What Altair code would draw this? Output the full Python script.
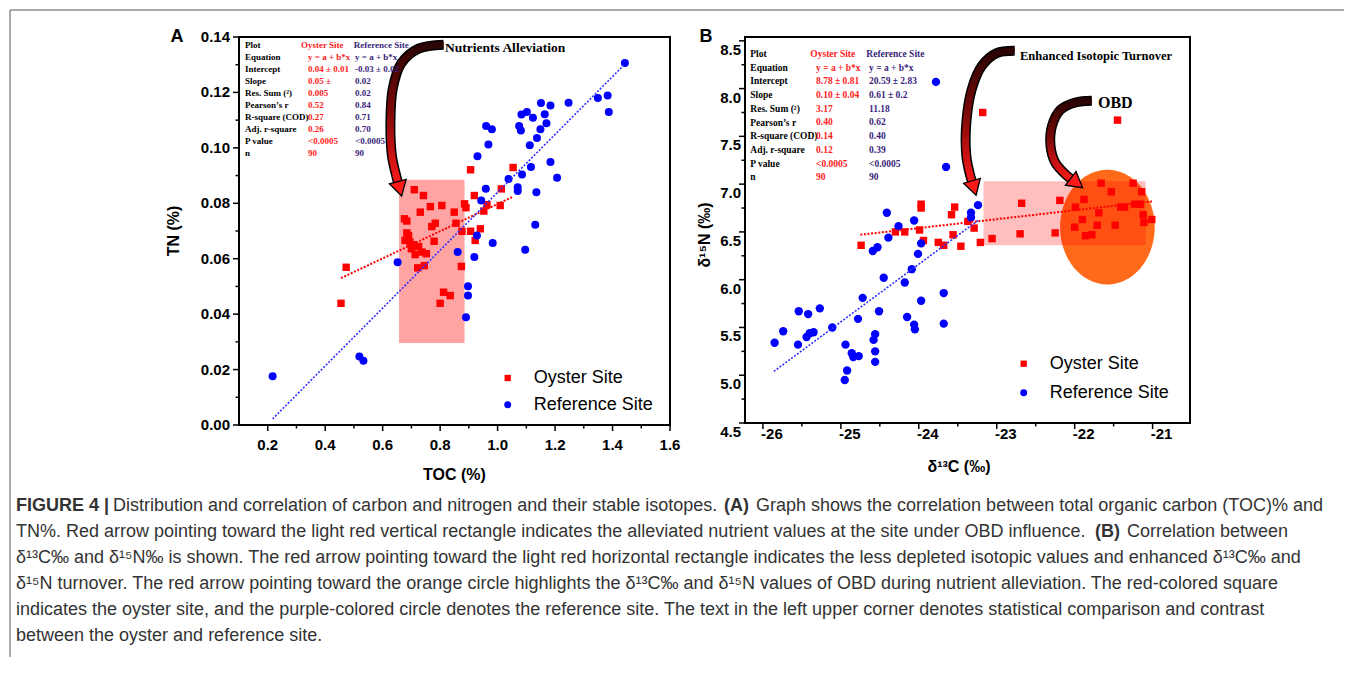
import altair as alt
import numpy as np
import pandas as pd

RED = "#ff0000"
BLUE = "#0000ff"
TRED = "#ff1a1a"
PURPLE = "#3a1f7a"
SANS = "Liberation Sans"
SERIF = "Liberation Serif"

# ------------------------------------------------------------------ Panel A data
a_oyster_toc = [0.455, 0.473, 0.710, 0.742, 0.676, 0.684, 0.684, 0.690, 0.678, 0.695,
                0.707, 0.700, 0.713, 0.725, 0.737, 0.752, 0.722, 0.745, 0.731, 0.766,
                0.771, 0.783, 0.779, 0.806, 0.849, 0.855, 0.876, 0.874, 0.800, 0.812,
                0.835, 0.885, 0.890, 0.906, 0.919, 0.906, 0.922, 0.940, 0.952, 0.963,
                1.009, 1.013, 1.054]
a_oyster_tn = [0.0439, 0.0569, 0.0849, 0.0828, 0.0744, 0.0736, 0.0693, 0.0684, 0.0666, 0.0660,
               0.0650, 0.0636, 0.0615, 0.0644, 0.0624, 0.0618, 0.0567, 0.0575, 0.0768, 0.0788,
               0.0716, 0.0728, 0.0663, 0.0792, 0.0768, 0.0728, 0.0699, 0.0572, 0.0439, 0.0479,
               0.0467, 0.0798, 0.0784, 0.0921, 0.0828, 0.0699, 0.0666, 0.0708, 0.0772, 0.0795,
               0.0792, 0.0852, 0.0929]
a_ref_toc = [0.217, 0.519, 0.533, 0.652, 0.861, 0.890, 0.897, 0.897, 0.919, 0.928,
             0.930, 0.943, 0.959, 0.960, 0.968, 0.980, 0.983, 1.038, 1.070, 1.070,
             1.085, 1.075, 1.081, 1.083, 1.102, 1.096, 1.112, 1.116, 1.123, 1.131,
             1.135, 1.137, 1.149, 1.151, 1.164, 1.170, 1.184, 1.184, 1.207, 1.247,
             1.349, 1.383, 1.387, 1.443]
a_ref_tn = [0.0176, 0.0247, 0.0232, 0.0587, 0.0624, 0.0389, 0.0501, 0.0467, 0.0606, 0.0684,
            0.0970, 0.0810, 0.0852, 0.1079, 0.1012, 0.1067, 0.0657, 0.0888, 0.0858, 0.0844,
            0.0904, 0.1079, 0.1063, 0.1120, 0.1129, 0.0632, 0.1009, 0.0931, 0.1109, 0.0723,
            0.0840, 0.1036, 0.1067, 0.1162, 0.1121, 0.1089, 0.1153, 0.0949, 0.0892, 0.1163,
            0.1180, 0.1189, 0.1129, 0.1306]
a_fit_oyster_toc = [0.455, 1.05]
a_fit_oyster_tn = [0.053, 0.0822]
a_fit_ref_toc = [0.217, 1.439]
a_fit_ref_tn = [0.0022, 0.1298]
a_box_toc = [0.657, 0.885]
a_box_tn = [0.0296, 0.0885]

a_x_ticks = [0.2, 0.4, 0.6, 0.8, 1.0, 1.2, 1.4, 1.6]
a_x_labels = ["0.2", "0.4", "0.6", "0.8", "1.0", "1.2", "1.4", "1.6"]
a_x_minor = [0.3, 0.5, 0.7, 0.9, 1.1, 1.3, 1.5]
a_y_ticks = [0.00, 0.02, 0.04, 0.06, 0.08, 0.10, 0.12, 0.14]
a_y_labels = ["0.00", "0.02", "0.04", "0.06", "0.08", "0.10", "0.12", "0.14"]
a_y_minor = [0.01, 0.03, 0.05, 0.07, 0.09, 0.11, 0.13]

# ------------------------------------------------------------------ Panel B data
b_oyster_c = [-24.74, -24.30, -24.18, -23.97, -23.97, -23.99, -23.94, -23.75, -23.68, -23.58,
              -23.54, -23.56, -23.46, -23.37, -23.29, -23.21, -23.18, -23.06, -22.68, -22.70,
              -22.25, -22.19, -22.00, -21.99, -21.90, -21.88, -21.86, -21.78, -21.71, -21.69,
              -21.66, -21.53, -21.48, -21.45, -21.41, -21.36, -21.25, -21.23, -21.16, -21.14,
              -21.12, -21.11, -21.01]
b_oyster_n = [6.36, 6.50, 6.50, 6.79, 6.75, 6.52, 6.41, 6.39, 6.36, 6.68,
              6.76, 6.47, 6.35, 6.61, 6.54, 6.39, 7.75, 6.43, 6.80, 6.48,
              6.49, 6.83, 6.55, 6.76, 6.63, 6.84, 6.46, 6.47, 6.57, 6.70,
              7.01, 6.92, 6.57, 7.67, 6.76, 6.76, 7.01, 6.79, 6.79, 6.92,
              6.68, 6.60, 6.63]
b_ref_c = [-25.85, -25.74, -25.55, -25.54, -25.44, -25.42, -25.40, -25.35, -25.27, -25.11,
           -24.94, -24.92, -24.95, -24.86, -24.84, -24.77, -24.78, -24.72, -24.58, -24.56,
           -24.56, -24.56, -24.51, -24.59, -24.53, -24.45, -24.41, -24.39, -24.26, -24.18,
           -24.15, -24.09, -24.06, -24.05, -24.06, -24.01, -23.97, -23.97, -23.78, -23.68,
           -23.68, -23.65, -23.33, -23.33, -23.24]
b_ref_n = [5.34, 5.46, 5.32, 5.67, 5.40, 5.64, 5.44, 5.45, 5.70, 5.50,
           5.32, 5.05, 4.95, 5.23, 5.19, 5.20, 5.59, 5.81, 5.37, 5.43,
           5.25, 5.14, 5.67, 6.30, 6.34, 6.02, 6.70, 6.44, 6.56, 5.97,
           5.61, 6.11, 5.53, 5.48, 6.62, 6.27, 6.38, 5.78, 8.07, 5.86,
           5.54, 7.18, 6.70, 6.65, 6.78]
b_fit_oyster_c = [-24.75, -21.0]
b_fit_oyster_n = [6.47, 6.82]
b_fit_ref_c = [-25.86, -23.24]
b_fit_ref_n = [5.04, 6.62]
b_box_c = [-23.17, -21.09]
b_box_n = [6.36, 7.03]
b_obd_center = [-21.58, 6.55]
b_obd_radius = [0.607, 0.60]

b_x_ticks = [-26, -25, -24, -23, -22, -21]
b_x_labels = ["-26", "-25", "-24", "-23", "-22", "-21"]
b_x_minor = [-25.5, -24.5, -23.5, -22.5, -21.5]
b_y_ticks = [4.5, 5.0, 5.5, 6.0, 6.5, 7.0, 7.5, 8.0, 8.5]
b_y_labels = ["4.5", "5.0", "5.5", "6.0", "6.5", "7.0", "7.5", "8.0", "8.5"]
b_y_minor = [4.75, 5.25, 5.75, 6.25, 6.75, 7.25, 7.75, 8.25]

# ------------------------------------------------------------------ statistics tables
stat_labels = ["Plot", "Equation", "Intercept", "Slope", "Res. Sum (²)", "Pearson’s r",
               "R-square (COD)", "Adj. r-square", "P value", "n"]
a_stats_oyster = ["y = a + b*x", "0.04 ± 0.01", "0.05 ±", "0.005", "0.52", "0.27", "0.26", "<0.0005", "90"]
a_stats_ref = ["y = a + b*x", "-0.03 ± 0.02", "0.02", "0.02", "0.84", "0.71", "0.70", "<0.0005", "90"]
b_stats_oyster = ["y = a + b*x", "8.78 ± 0.81", "0.10 ± 0.04", "3.17", "0.40", "0.14", "0.12", "<0.0005", "90"]
b_stats_ref = ["y = a + b*x", "20.59 ± 2.83", "0.61  ±  0.2", "11.18", "0.62", "0.40", "0.39", "<0.0005", "90"]

caption_lines = [
    "TN%. Red arrow pointing toward the light red vertical rectangle indicates the alleviated nutrient values at the site under OBD influence.",
    "δ¹³C‰ and δ¹⁵N‰ is shown. The red arrow pointing toward the light red horizontal rectangle indicates the less depleted isotopic values and enhanced δ¹³C‰ and",
    "δ¹⁵N turnover. The red arrow pointing toward the orange circle highlights the δ¹³C‰ and δ¹⁵N values of OBD during nutrient alleviation. The red-colored square",
    "indicates the oyster site, and the purple-colored circle denotes the reference site. The text in the left upper corner denotes statistical comparison and contrast",
    "between the oyster and reference site.",
]

# ------------------------------------------------------------------ annotation geometry (data coords)
a_arrow_x = [0.812, 0.725, 0.664, 0.635, 0.627, 0.632, 0.647, 0.657]
a_arrow_y = [0.1372, 0.1358, 0.1304, 0.1213, 0.1093, 0.0973, 0.0900, 0.0861]
a_head = (0.657, 0.0861, 165)
b1_arrow_x = [-22.77, -23.00, -23.19, -23.32, -23.39, -23.39, -23.34, -23.30]
b1_arrow_y = [8.395, 8.371, 8.239, 7.995, 7.646, 7.298, 7.089, 6.984]
b1_head = (-23.30, 6.984, 164)
b2_arrow_x = [-21.78, -21.99, -22.18, -22.29, -22.31, -22.25, -22.10, -22.00]
b2_arrow_y = [7.873, 7.855, 7.779, 7.611, 7.402, 7.228, 7.089, 7.028]
b2_head = (-22.00, 7.028, 128)

one = pd.DataFrame({"k": [0]})

ARROW_GRAD = alt.Gradient(
    gradient="linear",
    stops=[alt.GradientStop(color="#2a0404", offset=0),
           alt.GradientStop(color="#7a0808", offset=0.45),
           alt.GradientStop(color="#ff1a1a", offset=1)],
    x1=0, x2=0, y1=0, y2=1)


def X(field, xs):
    return alt.X(field, scale=xs, axis=None)


def Y(field, ys):
    return alt.Y(field, scale=ys, axis=None)


def points(xv, yv, xs, ys, shape, size, color):
    df = pd.DataFrame({"x": xv, "y": yv})
    return alt.Chart(df).mark_point(shape=shape, size=size, filled=True, color=color,
                                    opacity=1, strokeWidth=0).encode(x=X("x:Q", xs), y=Y("y:Q", ys))


def fit_line(xv, yv, xs, ys, color, width):
    df = pd.DataFrame({"x": xv, "y": yv})
    return alt.Chart(df).mark_line(color=color, strokeWidth=width, strokeDash=[2, 1.6]).encode(
        x=X("x:Q", xs), y=Y("y:Q", ys))


def box(xv, yv, xs, ys, opacity):
    df = pd.DataFrame({"x": [xv[0]], "x2": [xv[1]], "y": [yv[0]], "y2": [yv[1]]})
    return alt.Chart(df).mark_rect(color=RED, opacity=opacity).encode(
        x=X("x:Q", xs), x2="x2:Q", y=Y("y:Q", ys), y2="y2:Q")


def arrow(xv, yv, head, xs, ys):
    df = pd.DataFrame({"x": xv, "y": yv, "i": list(range(len(xv)))})
    base = alt.Chart(df).encode(x=X("x:Q", xs), y=Y("y:Q", ys), order=alt.Order("i:Q"))
    outline = base.mark_line(color="black", strokeWidth=10, interpolate="catmull-rom", strokeCap="butt")
    body = base.mark_line(color=ARROW_GRAD, strokeWidth=7, interpolate="catmull-rom", strokeCap="butt")
    hd = alt.Chart(pd.DataFrame({"x": [head[0]], "y": [head[1]]})).mark_point(
        shape="triangle", size=300, filled=True, fill="#ff1a1a", stroke="black", strokeWidth=1.3,
        angle=head[2], opacity=1).encode(x=X("x:Q", xs), y=Y("y:Q", ys))
    return [outline, body, hd]


def axes(xt, xl, xm, yt, yl, ym, xs, ys, h, xlab_y, xlab_dx, ylab_x, ylab_dy, size):
    """Frame ticks and tick labels drawn through the panel's own scales."""
    out = []
    out.append(alt.Chart(pd.DataFrame({"v": xt})).mark_rule(color="black", strokeWidth=1.5).encode(
        x=X("v:Q", xs), y=alt.value(h), y2=alt.value(h + 6)))
    out.append(alt.Chart(pd.DataFrame({"v": xm})).mark_rule(color="black", strokeWidth=1.5).encode(
        x=X("v:Q", xs), y=alt.value(h), y2=alt.value(h + 3.5)))
    out.append(alt.Chart(pd.DataFrame({"v": yt})).mark_rule(color="black", strokeWidth=1.5).encode(
        y=Y("v:Q", ys), x=alt.value(0), x2=alt.value(-6)))
    out.append(alt.Chart(pd.DataFrame({"v": ym})).mark_rule(color="black", strokeWidth=1.5).encode(
        y=Y("v:Q", ys), x=alt.value(0), x2=alt.value(-3.5)))
    out.append(alt.Chart(pd.DataFrame({"v": xt, "t": xl})).mark_text(
        font=SANS, fontSize=size, fontWeight="bold", color="black", align="center",
        baseline="middle", dx=xlab_dx).encode(x=X("v:Q", xs), y=alt.value(xlab_y), text="t:N"))
    out.append(alt.Chart(pd.DataFrame({"v": yt, "t": yl})).mark_text(
        font=SANS, fontSize=size, fontWeight="bold", color="black", align="right",
        baseline="middle", dy=ylab_dy).encode(y=Y("v:Q", ys), x=alt.value(ylab_x), text="t:N"))
    return out


def text(t, x, y, size, color="black", font=SANS, weight="normal", align="left",
         baseline="middle", line_height=None, angle=None):
    kw = dict(text=t, align=align, baseline=baseline, font=font, fontSize=size,
              fontWeight=weight, color=color)
    if line_height is not None:
        kw["lineHeight"] = line_height
    if angle is not None:
        kw["angle"] = angle
    return alt.Chart(one).mark_text(**kw).encode(x=alt.value(x), y=alt.value(y))


def legend(x, y0, dy, tx):
    return [
        alt.Chart(one).mark_point(shape="square", size=40, filled=True, color=RED, opacity=1,
                                  strokeWidth=0).encode(x=alt.value(x), y=alt.value(y0)),
        alt.Chart(one).mark_point(shape="circle", size=48, filled=True, color=BLUE, opacity=1,
                                  strokeWidth=0).encode(x=alt.value(x), y=alt.value(y0 + dy)),
        text("Oyster Site", tx, y0, 18),
        text("Reference Site", tx, y0 + dy, 18),
    ]


# ------------------------------------------------------------------ Panel A
WA, HA = 431, 388
xA = alt.Scale(domain=[0.1, 1.6], nice=False, zero=False)
yA = alt.Scale(domain=[0.0, 0.14], nice=False, zero=False)

TA = 9  # table font size, panel A
layersA = [
    box(a_box_toc, a_box_tn, xA, yA, 0.36),
    points(a_oyster_toc, a_oyster_tn, xA, yA, "square", 55, RED),
    points(a_ref_toc, a_ref_tn, xA, yA, "circle", 64, BLUE),
    fit_line(a_fit_oyster_toc, a_fit_oyster_tn, xA, yA, RED, 2),
    fit_line(a_fit_ref_toc, a_fit_ref_tn, xA, yA, "#3030ff", 1.6),
]
layersA += axes(a_x_ticks, a_x_labels, a_x_minor, a_y_ticks, a_y_labels, a_y_minor,
                xA, yA, HA, HA + 20, 0, -9, 0, 15)
layersA += arrow(a_arrow_x, a_arrow_y, a_head, xA, yA)
layersA += [
    text("TOC (%)", WA / 2, 438, 16, weight="bold", align="center"),
    text("TN (%)", -65, HA / 2, 16, weight="bold", align="center", angle=270),
    text("Nutrients Alleviation", 206, 11, 13.5, font=SERIF, weight="bold"),
    text("A", -62, 0, 18, weight="bold", align="center"),
    text(stat_labels, 6, 4, TA, font=SERIF, weight="bold", baseline="top", line_height=12),
    text("Oyster Site", 62, 4, TA, color=TRED, font=SERIF, weight="bold", baseline="top"),
    text("Reference Site", 114.7, 4, TA, color=PURPLE, font=SERIF, weight="bold", baseline="top"),
    text(a_stats_oyster, 69, 16, TA, color=TRED, font=SERIF, weight="bold", baseline="top", line_height=12),
    text(a_stats_ref, 116, 16, TA, color=PURPLE, font=SERIF, weight="bold", baseline="top", line_height=12),
]
layersA += legend(268.7, 341, 26.7, 294.7)

# page frame + caption (positioned relative to panel A)
layersA += [
    alt.Chart(one).mark_rule(color="#8c8c8c", strokeWidth=1.5).encode(
        x=alt.value(-229), y=alt.value(-27), y2=alt.value(620)),
    alt.Chart(one).mark_rule(color="#8c8c8c", strokeWidth=1.5).encode(
        x=alt.value(-229), x2=alt.value(1105), y=alt.value(-27)),
]
CAP = 18
CAPC = "#333333"
CX = -223
cap_y = [469, 495, 521, 547, 573, 599]
layersA += [
    text("FIGURE 4 |", CX, cap_y[0], CAP, color=CAPC, weight="bold"),
    text("Distribution and correlation of carbon and nitrogen and their stable isotopes.", CX + 97, cap_y[0], CAP, color=CAPC),
    text("(A)", CX + 708, cap_y[0], CAP, color=CAPC, weight="bold"),
    text("Graph shows the correlation between total organic carbon (TOC)% and", CX + 740, cap_y[0], CAP, color=CAPC),
    text(caption_lines[0], CX, cap_y[1], CAP, color=CAPC),
    text("(B)", CX + 1079, cap_y[1], CAP, color=CAPC, weight="bold"),
    text("Correlation between", CX + 1111, cap_y[1], CAP, color=CAPC),
]
for i, line in enumerate(caption_lines[1:]):
    layersA.append(text(line, CX, cap_y[i + 2], CAP, color=CAPC))

panelA = alt.layer(*layersA).properties(width=WA, height=HA)

# ------------------------------------------------------------------ Panel B
WB, HB = 445, 386
xB = alt.Scale(domain=[-26.23, -20.52], nice=False, zero=False)
yB = alt.Scale(domain=[4.5, 8.54], nice=False, zero=False)

t_ell = np.linspace(0, np.pi, 73)
ell_df = pd.DataFrame({
    "x": b_obd_center[0] + b_obd_radius[0] * np.cos(t_ell),
    "yt": b_obd_center[1] + b_obd_radius[1] * np.sin(t_ell),
    "yb": b_obd_center[1] - b_obd_radius[1] * np.sin(t_ell),
})
ellipse = alt.Chart(ell_df).mark_area(color="#ff6a1a", opacity=1).encode(
    x=X("x:Q", xB), y=Y("yt:Q", yB), y2="yb:Q")

TB = 9.5  # table font size, panel B
layersB = [
    ellipse,
    box(b_box_c, b_box_n, xB, yB, 0.25),
    points(b_oyster_c, b_oyster_n, xB, yB, "square", 55, RED),
    points(b_ref_c, b_ref_n, xB, yB, "circle", 70, BLUE),
    fit_line(b_fit_oyster_c, b_fit_oyster_n, xB, yB, RED, 2),
    fit_line(b_fit_ref_c, b_fit_ref_n, xB, yB, "#3030ff", 1.6),
]
layersB += axes(b_x_ticks, b_x_labels, b_x_minor, b_y_ticks, b_y_labels, b_y_minor,
                xB, yB, HB, HB + 11, 9, -4, 9, 15)
layersB += arrow(b1_arrow_x, b1_arrow_y, b1_head, xB, yB)
layersB += arrow(b2_arrow_x, b2_arrow_y, b2_head, xB, yB)
layersB += [
    text("δ¹³C (‰)", 214, HB + 44, 16, weight="bold", align="center"),
    text("δ¹⁵N (‰)", -40, 198, 16, weight="bold", align="center", angle=270),
    text("Enhanced Isotopic Turnover", 275, 19, 12.5, font=SERIF, weight="bold"),
    text("OBD", 353, 66, 16, font=SERIF, weight="bold"),
    text("B", -39, 0, 18, weight="bold", align="center"),
    text(stat_labels, 5.3, 12, TB, font=SERIF, weight="bold", baseline="top", line_height=13.7),
    text("Oyster Site", 65.3, 12, TB, color=TRED, font=SERIF, weight="bold", baseline="top"),
    text("Reference Site", 121.3, 12, TB, color=PURPLE, font=SERIF, weight="bold", baseline="top"),
    text(b_stats_oyster, 71, 25.7, TB, color=TRED, font=SERIF, weight="bold", baseline="top", line_height=13.7),
    text(b_stats_ref, 124, 25.7, TB, color=PURPLE, font=SERIF, weight="bold", baseline="top", line_height=13.7),
]
layersB += legend(278.7, 326.7, 29, 304.7)

panelB = alt.layer(*layersB).properties(width=WB, height=HB)

chart = alt.hconcat(panelA, panelB, spacing=75, bounds="flush").properties(
    padding={"left": 0, "top": 0, "right": 0, "bottom": 0}, background="white"
).configure_view(stroke="black", strokeWidth=2)

chart.save("out.html", embed_options={"renderer": "svg", "actions": False})
